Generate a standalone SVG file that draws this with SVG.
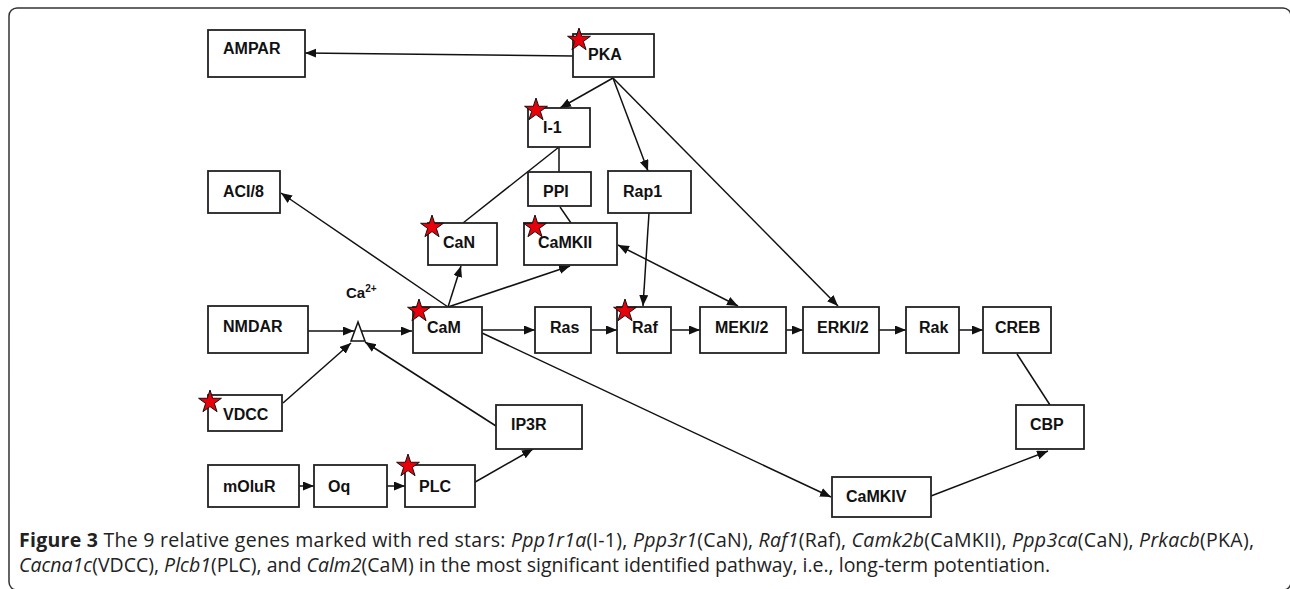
<svg xmlns="http://www.w3.org/2000/svg" width="1290" height="589" viewBox="0 0 1290 589">
<style>
.box{fill:#fff;stroke:#222;stroke-width:1.8}
.lbl{font-family:"Liberation Sans",Arial,sans-serif;font-weight:bold;font-size:16px;fill:#111}
.ln{stroke:#111;stroke-width:1.5;fill:none}
.arr{marker-end:url(#ah)}
.star{fill:#e8000b;stroke:#111;stroke-width:1}
.cap{font-family:"Open Sans","Liberation Sans",sans-serif;font-size:19.5px;fill:#222}
</style>
<defs>
<marker id="ah" markerWidth="12" markerHeight="10" refX="11" refY="4.5" orient="auto-start-reverse" markerUnits="userSpaceOnUse">
<path d="M0,0 L11,4.5 L0,9 z" fill="#111"/>
</marker>
<path id="st" class="star" d="M0,-12 L2.7,-3.72 L11.41,-3.71 L4.37,1.42 L7.05,9.71 L0,4.6 L-7.05,9.71 L-4.37,1.42 L-11.41,-3.71 L-2.7,-3.72 Z"/>
</defs>
<rect width="1290" height="589" fill="#fff"/>
<rect x="9" y="8" width="1282" height="582" rx="8" fill="none" stroke="#333" stroke-width="1.5"/>

<g id="connectors">
<line class="ln arr" x1="573" y1="56" x2="305" y2="53"/>
<line class="ln arr" x1="613" y1="78" x2="560" y2="108"/>
<line class="ln arr" x1="613" y1="78" x2="648" y2="171"/>
<line class="ln arr" x1="613" y1="78" x2="838" y2="306"/>
<line class="ln" x1="559" y1="147" x2="559" y2="172"/>
<line class="ln" x1="559" y1="147" x2="463" y2="223"/>
<line class="ln" x1="560" y1="207" x2="571" y2="223"/>
<line class="ln arr" x1="649" y1="213" x2="643" y2="306"/>
<line class="ln arr" x1="448" y1="307" x2="461" y2="266"/>
<line class="ln arr" x1="448" y1="307" x2="570" y2="266"/>
<line class="ln arr" x1="448" y1="307" x2="281" y2="193"/>
<line class="ln arr" x1="618" y1="245" x2="738" y2="306" marker-start="url(#ah)"/>
<line class="ln arr" x1="482" y1="330" x2="535" y2="330"/>
<line class="ln arr" x1="591" y1="330" x2="617" y2="330"/>
<line class="ln arr" x1="671" y1="330" x2="700" y2="330"/>
<line class="ln arr" x1="786" y1="330" x2="803" y2="330"/>
<line class="ln arr" x1="879" y1="330" x2="906" y2="330"/>
<line class="ln arr" x1="959" y1="330" x2="983" y2="330"/>
<line class="ln" x1="1017" y1="354" x2="1050" y2="405"/>
<line class="ln arr" x1="931" y1="496" x2="1048" y2="451"/>
<line class="ln arr" x1="482" y1="333" x2="831" y2="497"/>
<line class="ln arr" x1="308" y1="331" x2="354" y2="331"/>
<line class="ln arr" x1="362" y1="331" x2="412" y2="331"/>
<line class="ln arr" x1="283" y1="403" x2="351" y2="343"/>
<line class="ln arr" x1="496" y1="426" x2="365" y2="342"/>
<line class="ln arr" x1="290" y1="486" x2="314" y2="486"/>
<line class="ln arr" x1="380" y1="486" x2="405" y2="486"/>
<line class="ln arr" x1="470" y1="485" x2="533" y2="449"/>
</g>

<g id="ca2">
<path d="M358,322 L351,341 L365,341 Z" fill="#fff" stroke="#111" stroke-width="1.5"/>
<text x="346" y="298" font-family="Liberation Sans,sans-serif" font-weight="bold" font-size="15" fill="#111">Ca<tspan font-size="10" dy="-6">2+</tspan></text>
</g>

<g id="AMPAR"><rect class="box" x="208" y="30" width="97" height="47"/><text class="lbl" x="223" y="54">AMPAR</text></g>
<g id="PKA"><rect class="box" x="573" y="34" width="81" height="43"/><text class="lbl" x="588" y="60">PKA</text><use href="#st" x="579" y="40"/></g>
<g id="I-1"><rect class="box" x="528" y="108" width="62" height="39"/><text class="lbl" x="543" y="133">I-1</text><use href="#st" x="536" y="110"/></g>
<g id="PPI"><rect class="box" x="528" y="172" width="63" height="34"/><text class="lbl" x="543" y="197">PPI</text></g>
<g id="Rap1"><rect class="box" x="608" y="171" width="83" height="42"/><text class="lbl" x="623" y="197">Rap1</text></g>
<g id="ACI8"><rect class="box" x="208" y="171" width="72" height="42"/><text class="lbl" x="223" y="197">ACI/8</text></g>
<g id="CaN"><rect class="box" x="428" y="223" width="69" height="42"/><text class="lbl" x="443" y="248">CaN</text><use href="#st" x="432" y="227"/></g>
<g id="CaMKII"><rect class="box" x="524" y="223" width="93" height="42"/><text class="lbl" x="538" y="248">CaMKII</text><use href="#st" x="535" y="227"/></g>
<g id="CaM"><rect class="box" x="413" y="307" width="69" height="46"/><text class="lbl" x="427" y="333">CaM</text><use href="#st" x="419" y="311"/></g>
<g id="Ras"><rect class="box" x="535" y="307" width="56" height="46"/><text class="lbl" x="550" y="333">Ras</text></g>
<g id="Raf"><rect class="box" x="617" y="307" width="54" height="46"/><text class="lbl" x="632" y="333">Raf</text><use href="#st" x="625" y="311"/></g>
<g id="MEKI2"><rect class="box" x="700" y="307" width="86" height="46"/><text class="lbl" x="715" y="333">MEKI/2</text></g>
<g id="ERKI2"><rect class="box" x="803" y="307" width="76" height="46"/><text class="lbl" x="817" y="333">ERKI/2</text></g>
<g id="Rak"><rect class="box" x="906" y="307" width="53" height="46"/><text class="lbl" x="919" y="333">Rak</text></g>
<g id="CREB"><rect class="box" x="983" y="307" width="68" height="46"/><text class="lbl" x="995" y="333">CREB</text></g>
<g id="CBP"><rect class="box" x="1016" y="405" width="68" height="44"/><text class="lbl" x="1030" y="430">CBP</text></g>
<g id="CaMKIV"><rect class="box" x="832" y="477" width="99" height="40"/><text class="lbl" x="846" y="502">CaMKIV</text></g>
<g id="NMDAR"><rect class="box" x="208" y="306" width="100" height="47"/><text class="lbl" x="223" y="332">NMDAR</text></g>
<g id="VDCC"><rect class="box" x="208" y="395" width="74" height="36"/><text class="lbl" x="223" y="420">VDCC</text><use href="#st" x="210" y="402"/></g>
<g id="IP3R"><rect class="box" x="496" y="405" width="86" height="44"/><text class="lbl" x="511" y="430">IP3R</text></g>
<g id="mOluR"><rect class="box" x="208" y="465" width="91" height="42"/><text class="lbl" x="223" y="492">mOluR</text></g>
<g id="Oq"><rect class="box" x="314" y="465" width="73" height="42"/><text class="lbl" x="328" y="492">Oq</text></g>
<g id="PLC"><rect class="box" x="405" y="465" width="70" height="42"/><text class="lbl" x="419" y="492">PLC</text><use href="#st" x="408" y="466"/></g>

<g id="caption">
<text class="cap" x="19" y="547" textLength="1235" lengthAdjust="spacing"><tspan font-weight="bold">Figure 3</tspan> The 9 relative genes marked with red stars: <tspan font-style="italic">Ppp1r1a</tspan>(I-1), <tspan font-style="italic">Ppp3r1</tspan>(CaN), <tspan font-style="italic">Raf1</tspan>(Raf), <tspan font-style="italic">Camk2b</tspan>(CaMKII), <tspan font-style="italic">Ppp3ca</tspan>(CaN), <tspan font-style="italic">Prkacb</tspan>(PKA),</text>
<text class="cap" x="19" y="572" textLength="1031" lengthAdjust="spacing"><tspan font-style="italic">Cacna1c</tspan>(VDCC), <tspan font-style="italic">Plcb1</tspan>(PLC), and <tspan font-style="italic">Calm2</tspan>(CaM) in the most significant identified pathway, i.e., long-term potentiation.</text>
</g>
</svg>
